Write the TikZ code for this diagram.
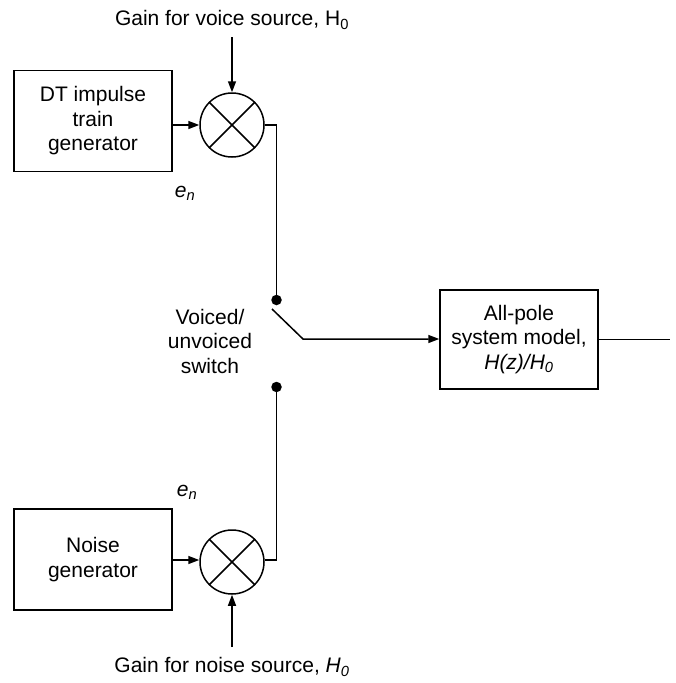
\documentclass[tikz,border=0pt]{standalone}
\usepackage{fontspec}
\setmainfont{Liberation Sans}
\usetikzlibrary{arrows.meta}
\tikzset{
  blk/.style={draw,line width=1.5pt,align=center,minimum width=158pt,
              minimum height=101pt,inner sep=2pt},
  mult/.style={circle,draw,line width=1.5pt,minimum size=64pt,inner sep=0pt,
               path picture={\draw[line width=1.5pt]
                 (path picture bounding box.north west) -- (path picture bounding box.south east)
                 (path picture bounding box.north east) -- (path picture bounding box.south west);}},
  sdot/.style={circle,fill,inner sep=0pt,minimum size=10.5pt},
  wire/.style={line width=1.5pt},
  arr/.style={wire,-{Triangle[length=11pt,width=8pt]}},
  lbl/.style={align=center,inner sep=0pt},
}
\begin{document}
\begin{tikzpicture}[x=1pt,y=-1pt,font=\fontsize{21}{24.5}\selectfont]
  \useasboundingbox (0,0) rectangle (676,683);
  % voiced branch
  \node[lbl] (gv) at (232,20) {Gain for voice source, H\textsubscript{0}};
  \node[blk] (dt) at (93,121) {DT impulse\\train\\generator};
  \node[mult] (mv) at (232,125) {};
  \node[lbl] (env) at (185,193) {\textit{e}\textsubscript{\textit{n}}};
  % unvoiced branch
  \node[blk] (ng) at (93,559.5) {Noise\\generator};
  \node[mult] (mu) at (232,562) {};
  \node[lbl] (enu) at (187,492) {\textit{e}\textsubscript{\textit{n}}};
  \node[lbl] (gu) at (232,667) {Gain for noise source, \textit{H\textsubscript{0}}};
  % switch and system model
  \node[sdot] (sv) at (276.5,300) {};
  \node[sdot] (su) at (276.5,387) {};
  \node[lbl] (swl) at (210,341) {Voiced/\\unvoiced\\switch};
  \coordinate (sw0) at (272,309);
  \coordinate (sw1) at (303,339);
  \node[blk,minimum height=99pt] (ap) at (519,339.5)
    {All-pole\\system model,\\\textit{H(z)/H\textsubscript{0}}};
  \coordinate (out) at (670,339.5);

  \draw[arr] (gv) ++(0,17) -- (mv.north);
  \draw[arr] (dt.east |- mv.west) -- (mv.west);
  \draw[wire] (mv.east) -| (sv);
  \draw[arr] (gu) ++(0,-20) -- (mu.south);
  \draw[arr] (ng.east |- 0,560) -- (mu.west |- 0,560);
  \draw[wire] (su) |- (mu.east |- 0,560);
  \draw[arr] (sw0) -- (sw1) -- (ap.west |- sw1);
  \draw[wire] (ap.east) -- (out);
\end{tikzpicture}
\end{document}
